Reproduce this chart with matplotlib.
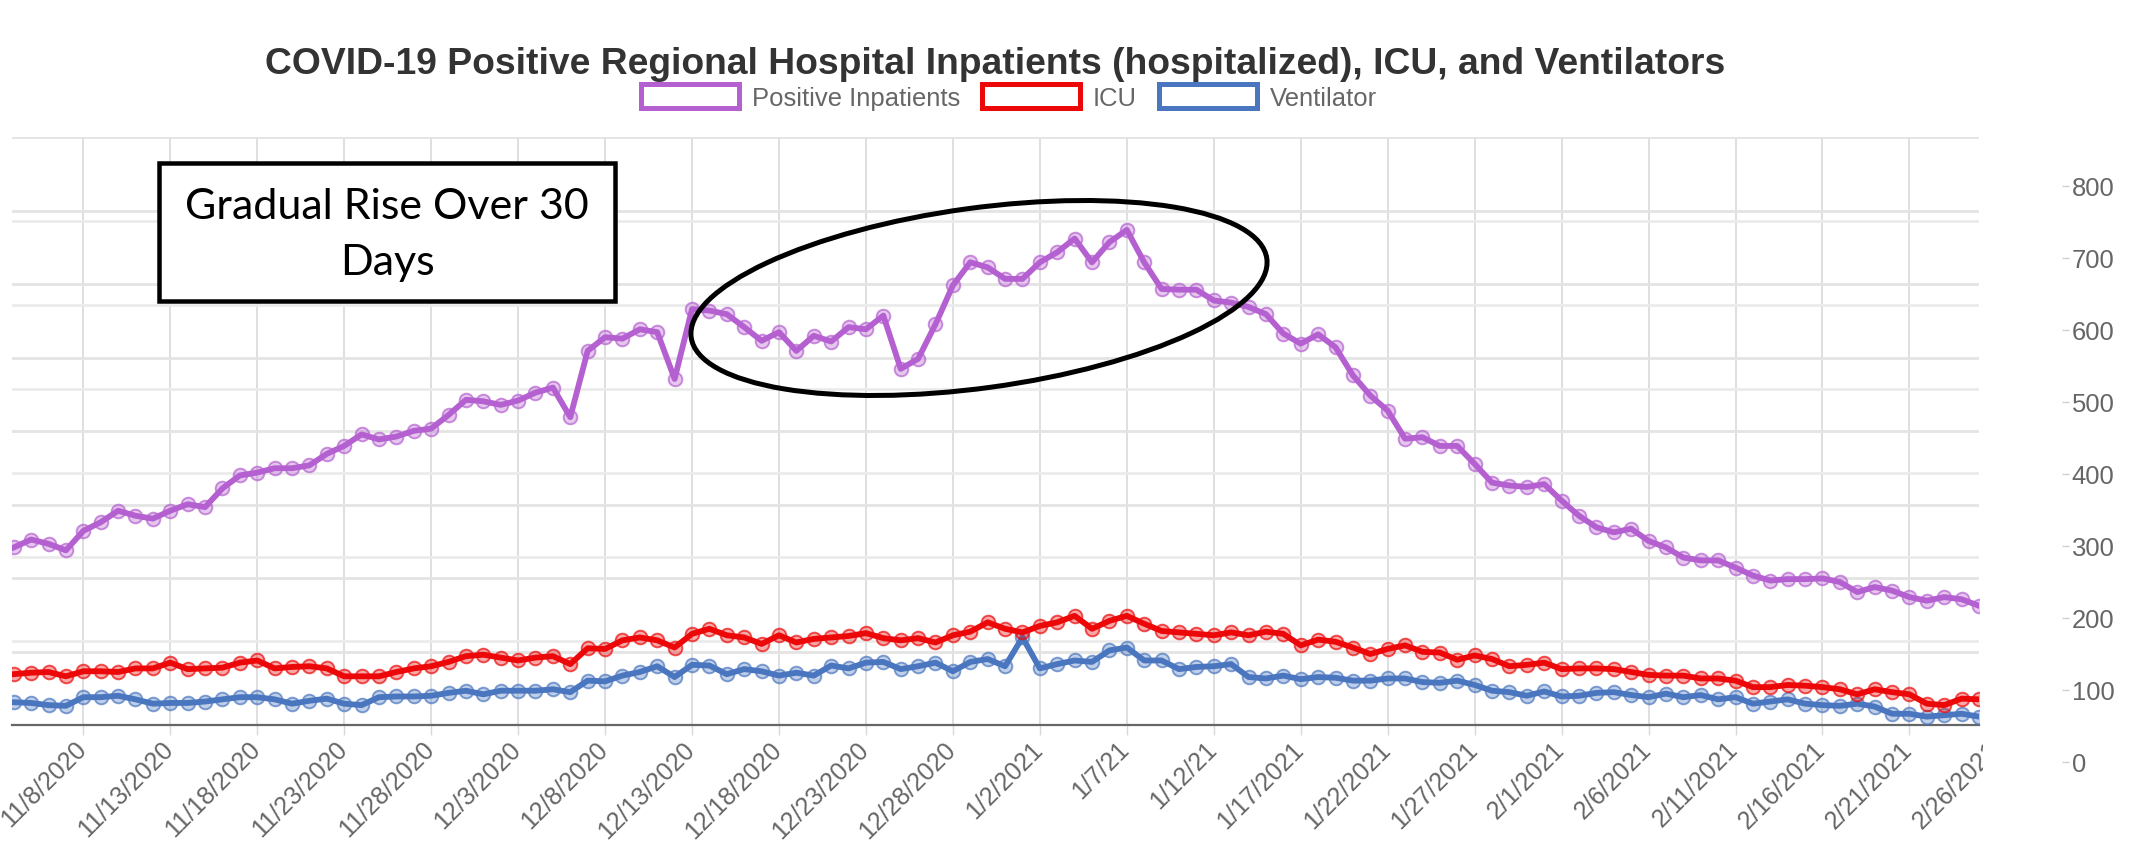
import numpy as np
import pandas as pd
import matplotlib
matplotlib.use("Agg")
import matplotlib.pyplot as plt
from matplotlib import font_manager as fm
from matplotlib.patches import Rectangle, Ellipse, Patch
from matplotlib.colors import to_rgba

# ---------------- data ----------------
dates = pd.date_range("2020-11-04", "2021-02-25", freq="D")

positive_inpatients = [
    298, 309, 303, 294,
    321, 333, 349, 342, 338, 349, 358, 354, 380, 398,
    402, 408, 408, 412, 428, 439, 455, 448, 452, 460,
    463, 482, 503, 501, 496, 502, 513, 520, 479, 571,
    590, 588, 601, 597, 532, 629, 627, 622, 604, 585,
    597, 571, 592, 584, 604, 601, 620, 546, 560, 608,
    662, 694, 687, 671, 671, 694, 708, 727, 694, 722,
    739, 694, 657, 656, 656, 641, 638, 632, 622, 595,
    581, 594, 576, 537, 509, 488, 449, 451, 439, 439,
    414, 388, 384, 382, 386, 363, 342, 326, 319, 324,
    307, 298, 284, 280, 280, 270, 259, 252, 254, 254,
    255, 250, 236, 243, 238, 229, 224, 229, 226, 217,
]
icu = [
    122, 124, 125, 119,
    126, 126, 125, 130, 130, 138, 129, 130, 131, 138,
    141, 130, 132, 133, 130, 119, 119, 119, 125, 130,
    133, 139, 147, 149, 145, 141, 145, 147, 136, 158,
    157, 169, 173, 169, 159, 178, 185, 176, 173, 164,
    176, 166, 171, 173, 175, 179, 172, 169, 172, 166,
    176, 181, 194, 185, 180, 189, 194, 203, 185, 196,
    203, 192, 182, 180, 178, 176, 180, 176, 181, 178,
    162, 170, 167, 159, 150, 157, 162, 153, 152, 142,
    148, 143, 133, 135, 138, 129, 130, 130, 129, 125,
    121, 120, 120, 116, 116, 113, 104, 104, 107, 106,
    104, 101, 94, 101, 97, 94, 81, 79, 88, 87,
]
ventilator = [
    83, 82, 79, 78,
    90, 90, 92, 87, 81, 82, 82, 84, 87, 90,
    90, 87, 81, 85, 88, 81, 79, 90, 91, 91,
    92, 96, 99, 94, 99, 99, 99, 101, 97, 113,
    112, 120, 125, 133, 118, 135, 134, 122, 129, 126,
    120, 124, 120, 134, 130, 138, 139, 129, 133, 138,
    126, 139, 143, 133, 173, 130, 136, 141, 139, 155,
    159, 141, 141, 129, 132, 133, 136, 118, 116, 120,
    115, 118, 117, 113, 113, 116, 116, 111, 110, 113,
    107, 99, 97, 92, 98, 91, 92, 96, 97, 93,
    90, 95, 90, 93, 87, 90, 81, 84, 87, 81,
    79, 78, 81, 77, 67, 67, 63, 65, 67, 63,
]
series_names = ["Positive Inpatients", "ICU", "Ventilator"]
tick_dates = pd.date_range("2020-11-08", "2021-02-26", freq="5D")
tick_labels = ["11/8/2020", "11/13/2020", "11/18/2020", "11/23/2020", "11/28/2020",
               "12/3/2020", "12/8/2020", "12/13/2020", "12/18/2020", "12/23/2020",
               "12/28/2020", "1/2/2021", "1/7/21", "1/12/21", "1/17/2021",
               "1/22/2021", "1/27/2021", "2/1/2021", "2/6/2021", "2/11/2021",
               "2/16/2021", "2/21/2021", "2/26/2021"]
y_tick_values = [0, 100, 200, 300, 400, 500, 600, 700, 800]
title = "COVID-19 Positive Regional Hospital Inpatients (hospitalized), ICU, and Ventilators"
note_text = "Gradual Rise Over 30\nDays"

assert len(positive_inpatients) == len(icu) == len(ventilator) == len(dates)

# ---------------- styling ----------------
W, H = 2131, 853
PT = 0.72  # points per pixel at dpi 100
C_PURPLE = "#b560d0"
C_RED = "#ec0808"
C_BLUE = "#4a76bf"


def has_font(name):
    try:
        fm.findfont(fm.FontProperties(family=name), fallback_to_default=False)
        return True
    except Exception:
        return False


if has_font("Liberation Sans Narrow"):
    NARROW, SCALE = "Liberation Sans Narrow", 1.0
else:
    NARROW, SCALE = "Liberation Sans", 0.82
NOTE_FONT = "Lato" if has_font("Lato") else "DejaVu Sans"

plt.rcParams["font.family"] = [NARROW, "DejaVu Sans"]


def fx(px):
    return px / W


def fy(py):
    return 1 - py / H


fig = plt.figure(figsize=(W / 100, H / 100), dpi=100, facecolor="white")

# main plot area (pixel geometry of the reference)
ax_left, ax_right, ax_top, ax_bottom = 12, 1979, 138, 726
ax = fig.add_axes([fx(ax_left), fy(ax_bottom), (ax_right - ax_left) / W, (ax_bottom - ax_top) / H])
ax.set_facecolor("white")

origin = pd.Timestamp("2020-11-08")
x = np.array([(d - origin).days for d in dates])
xt = np.array([(d - origin).days for d in tick_dates])

# value scale of the pasted right-hand labels: 0 at y=763px, 72 px per 100
zero_px, px_per_unit = 763, 0.72
ax.set_ylim((zero_px - ax_bottom) / px_per_unit, (zero_px - ax_top) / px_per_unit)
ax.set_xlim(-4.1, 109.0)

# grid: vertical lines every 5 days + two overlapping sets of horizontal lines
for xv in xt:
    ax.axvline(xv, color="#dcdcdc", lw=1.3, zorder=0)
for k in range(1, 9):
    ax.plot([0, 1], [k / 8, k / 8], transform=ax.transAxes, color="#e4e4e4", lw=2.0, zorder=0)
for k in range(1, 7):
    ax.plot([0, 1], [k / 7, k / 7], transform=ax.transAxes, color="#ebebeb", lw=2.0, zorder=0)

for s in ["left", "right", "top"]:
    ax.spines[s].set_visible(False)
ax.spines["bottom"].set_color("#666666")
ax.spines["bottom"].set_linewidth(1.6)
ax.set_yticks([])
ax.set_xticks(xt[xt <= 109])
ax.tick_params(axis="x", length=10 * PT, width=1.0, color="#d8d8d8", labelbottom=False)

for vals, col, z in [(ventilator, C_BLUE, 3), (icu, C_RED, 4), (positive_inpatients, C_PURPLE, 5)]:
    ax.plot(x, vals, color=col, lw=4.2, marker="o", ms=9.8,
            mfc=to_rgba(col, 0.35), mec=to_rgba(col, 0.7), mew=1.4,
            solid_joinstyle="round", zorder=z, clip_on=True)

# rotated date labels
for xv, lab in zip(xt, tick_labels):
    ax.annotate(lab, xy=(xv, 0), xycoords=("data", "axes fraction"),
                xytext=(-1, -20), textcoords="offset pixels",
                rotation=45, rotation_mode="anchor", ha="right", va="center",
                fontsize=22.0 * SCALE, color="#666666", annotation_clip=False)

# right-hand value labels (offset as in the reference)
lab_ax = fig.add_axes([fx(2046), fy(zero_px), 16 / W, (zero_px - 187) / H])
lab_ax.set_ylim(0, 800)
lab_ax.set_xticks([])
lab_ax.set_yticks(y_tick_values)
lab_ax.yaxis.tick_right()
lab_ax.tick_params(axis="y", length=7 * PT, width=1.0, color="#d0d0d0", pad=2,
                   labelsize=22.5 * SCALE, labelcolor="#666666")
for s in lab_ax.spines.values():
    s.set_visible(False)
lab_ax.patch.set_alpha(0)

# overlay in pixel coordinates for the annotations
ov = fig.add_axes([0, 0, 1, 1], zorder=20)
ov.set_xlim(0, W)
ov.set_ylim(H, 0)
ov.axis("off")
ov.patch.set_alpha(0)

# white mask: the reference is cut just right of the plot area
ov.add_patch(Rectangle((1983, 728), 62, 125, facecolor="white", edgecolor="none", zorder=1))

ov.add_patch(Rectangle((159, 164), 456, 138, facecolor="white", edgecolor="black",
                       lw=4.5 * PT, zorder=2))
ov.text(387, 235, note_text, ha="center", va="center", fontsize=31, family=NOTE_FONT,
        color="black", linespacing=1.55, zorder=3)
ov.add_patch(Ellipse((979, 299), 581, 180, angle=-7.8, facecolor="none",
                     edgecolor="black", lw=5 * PT, zorder=2))

# title
title_size = 26.8 if SCALE < 1 else 26.0
fig.text(fx(995), fy(65), title, ha="center", va="center", fontsize=title_size,
         fontweight="bold", color="#333333")

# legend
handles = [Patch(facecolor="white", edgecolor=c, lw=5 * PT) for c in (C_PURPLE, C_RED, C_BLUE)]
fs_leg = 22.5 * SCALE
fig.legend(handles, series_names, loc="center", bbox_to_anchor=(fx(1009), fy(98)),
           ncol=3, frameon=False, fontsize=fs_leg, labelcolor="#666666",
           handlelength=98 * PT / fs_leg, handleheight=27 * PT / fs_leg,
           handletextpad=13 * PT / fs_leg, columnspacing=22 * PT / fs_leg,
           borderaxespad=0, borderpad=0)

fig.savefig("out.png", dpi=100, facecolor="white")
